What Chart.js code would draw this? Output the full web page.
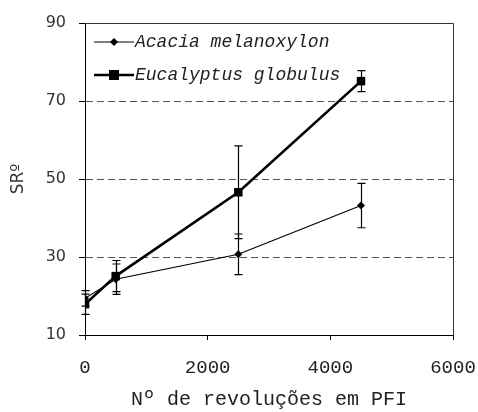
<!DOCTYPE html>
<html>
<head>
<meta charset="utf-8">
<script src="https://cdn.jsdelivr.net/npm/chart.js@4.4.1/dist/chart.umd.min.js"></script>
<style>
  body { margin: 0; background: #fff; }
  canvas { display: block; }
</style>
</head>
<body>
<canvas id="chart" width="478" height="412"></canvas>
<script>
// data
const revolutions = [0, 500, 2500, 4500];
const seriesNames = ["Acacia melanoxylon", "Eucalyptus globulus"];
const acacia = [19.4, 24.3, 30.7, 43.2];
const acaciaErr = [2.0, 3.9, 5.2, 5.7];
const eucalyptus = [17.9, 25.1, 46.6, 75.1];
const eucalyptusErr = [2.6, 4.0, 11.9, 2.7];
const xTicks = [0, 2000, 4000, 6000];
const yTicks = [10, 30, 50, 70, 90];

const toPoints = (vals) => revolutions.map((x, i) => ({ x: x, y: vals[i] }));

// box on top/right + error bars + legend inside the plot
const extras = {
  id: "extras",
  beforeDatasetsDraw(chart) {
    const { ctx, chartArea: a } = chart;
    ctx.save();
    ctx.strokeStyle = "#333";
    ctx.lineWidth = 1;
    ctx.beginPath();
    ctx.moveTo(a.left, a.top + 0.5);
    ctx.lineTo(a.right + 0.5, a.top + 0.5);
    ctx.lineTo(a.right + 0.5, a.bottom);
    ctx.stroke();
    ctx.restore();
  },
  afterDatasetsDraw(chart) {
    const { ctx, scales } = chart;
    const errs = [acaciaErr, eucalyptusErr];
    ctx.save();
    ctx.strokeStyle = "#000";
    ctx.lineWidth = 1.2;
    chart.data.datasets.forEach((ds, d) => {
      ds.data.forEach((p, i) => {
        const x = Math.round(scales.x.getPixelForValue(p.x)) + 0.5;
        const y1 = scales.y.getPixelForValue(p.y + errs[d][i]);
        const y2 = scales.y.getPixelForValue(p.y - errs[d][i]);
        ctx.beginPath();
        ctx.moveTo(x, y1);
        ctx.lineTo(x, y2);
        ctx.moveTo(x - 4, y1);
        ctx.lineTo(x + 4, y1);
        ctx.moveTo(x - 4, y2);
        ctx.lineTo(x + 4, y2);
        ctx.stroke();
      });
    });

    // legend
    const a = chart.chartArea;
    ctx.font = "italic 18px 'Liberation Mono'";
    ctx.textBaseline = "middle";
    ctx.fillStyle = "#000";
    chart.data.datasets.forEach((ds, d) => {
      const y = a.top + 19 + d * 33;
      const x0 = a.left + 9;
      ctx.lineWidth = ds.borderWidth;
      ctx.beginPath();
      ctx.moveTo(x0, y);
      ctx.lineTo(x0 + 40, y);
      ctx.stroke();
      const cx = x0 + 20;
      ctx.beginPath();
      if (ds.pointStyle === "rect") {
        ctx.rect(cx - 5, y - 5, 10, 10);
      } else {
        ctx.moveTo(cx, y - 4);
        ctx.lineTo(cx + 4, y);
        ctx.lineTo(cx, y + 4);
        ctx.lineTo(cx - 4, y);
        ctx.closePath();
      }
      ctx.fill();
      ctx.fillStyle = "#222";
      ctx.fillText(ds.label, x0 + 41, y);
      ctx.fillStyle = "#000";
    });
    ctx.restore();
  }
};

new Chart(document.getElementById("chart").getContext("2d"), {
  type: "line",
  data: {
    datasets: [
      {
        label: seriesNames[0],
        data: toPoints(acacia),
        borderColor: "#000",
        backgroundColor: "#000",
        borderWidth: 1.2,
        pointStyle: "rectRot",
        pointRadius: 4,
        pointBorderWidth: 0,
        tension: 0,
      },
      {
        label: seriesNames[1],
        data: toPoints(eucalyptus),
        borderColor: "#000",
        backgroundColor: "#000",
        borderWidth: 2.6,
        pointStyle: "rect",
        pointRadius: 6,
        pointBorderWidth: 0,
        tension: 0,
      },
    ],
  },
  options: {
    responsive: false,
    animation: false,
    layout: { padding: { left: 0, top: 23, right: 25, bottom: 0 } },
    plugins: {
      legend: { display: false },
      tooltip: { enabled: false },
    },
    scales: {
      x: {
        type: "linear",
        min: 0,
        max: 6000,
        afterBuildTicks: (s) => { s.ticks = xTicks.map((v) => ({ value: v })); },
        afterFit: (s) => { s.height = 77; s.paddingLeft = 0; s.paddingRight = 0; },
        ticks: {
          color: "#222",
          font: { family: "'Liberation Mono'", size: 19 },
          padding: 17,
          maxRotation: 0,
          callback: (v) => String(v),
        },
        grid: { drawOnChartArea: false, tickLength: 5, tickColor: "#000" },
        border: { color: "#000", width: 1 },
        title: {
          display: true,
          text: "Nº de revoluções em PFI",
          color: "#222",
          font: { family: "'Liberation Mono'", size: 20 },
          padding: { top: 1, bottom: 0 },
        },
      },
      y: {
        min: 10,
        max: 90,
        afterBuildTicks: (s) => { s.ticks = yTicks.map((v) => ({ value: v })); },
        afterFit: (s) => { s.width = 85; s.paddingTop = 0; s.paddingBottom = 0; },
        ticks: {
          color: "#333",
          font: { family: "'DejaVu Sans'", size: 16 },
          padding: 13,
        },
        grid: {
          color: (c) => (c.tick && c.tick.value > 10 && c.tick.value < 90 ? "#555" : "rgba(0,0,0,0)"),
          tickColor: "#000",
          tickLength: 6,
          lineWidth: 1,
        },
        border: { color: "#000", width: 1, dash: [7, 4] },
        title: {
          display: true,
          text: "SRº",
          color: "#333",
          font: { family: "'DejaVu Sans'", size: 17 },
          padding: { top: 8, bottom: 0 },
        },
      },
    },
  },
  plugins: [extras],
});
</script>
</body>
</html>
